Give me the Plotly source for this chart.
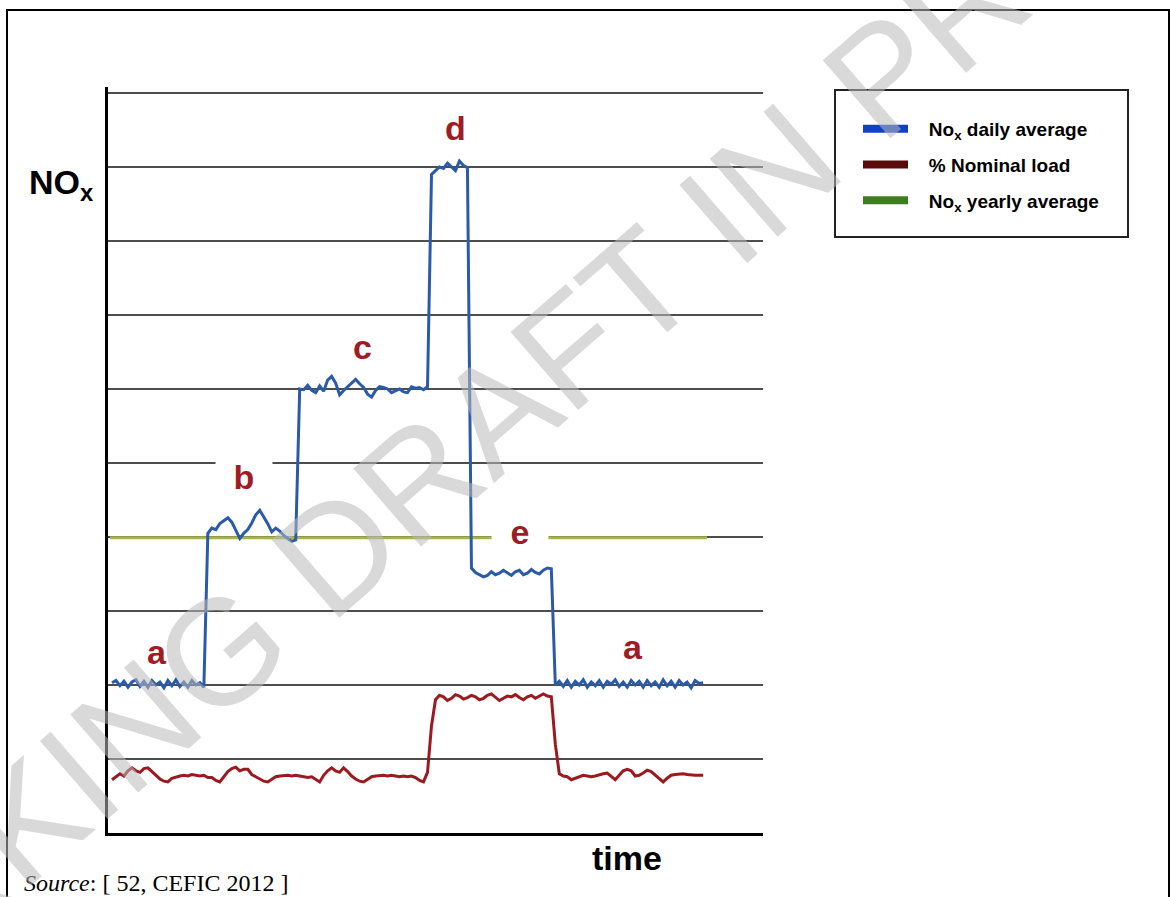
import plotly.graph_objects as go

# -------------------------------
# data
# -------------------------------
t = list(range(1, 150))   # time steps

# NOx daily average, one list per operating phase
nox_a1 = [2.03, 2.06, 1.99, 2.05, 1.97, 2.04, 2.07, 1.98, 2.05, 1.97,
          2.06, 2.00, 2.04, 1.96, 2.06, 1.99, 2.07, 1.98, 2.04, 1.97,
          2.06, 2.00, 2.03, 1.97]
nox_b = [4.05, 4.12, 4.10, 4.18, 4.22, 4.26, 4.20, 4.08, 3.98, 4.05,
         4.10, 4.19, 4.30, 4.36, 4.27, 4.18, 4.07, 4.12, 4.08, 4.02,
         3.98, 3.94, 3.96]
nox_c = [6.00, 5.99, 6.05, 5.98, 5.95, 6.04, 5.97, 6.12, 6.17, 6.08,
         5.92, 5.98, 6.03, 6.08, 6.13, 6.07, 6.02, 5.93, 5.89, 5.98,
         6.03, 6.02, 6.00, 5.95, 5.97, 6.00, 5.96, 5.95, 6.03, 6.01,
         6.02, 5.99, 6.03]
nox_d = [8.90, 8.95, 9.00, 8.98, 9.05, 9.00, 8.95, 9.08, 9.02, 8.99]
nox_e = [3.58, 3.52, 3.49, 3.46, 3.48, 3.53, 3.49, 3.51, 3.55, 3.52,
         3.48, 3.53, 3.55, 3.49, 3.51, 3.56, 3.52, 3.50, 3.55, 3.58,
         3.57]
nox_a2 = [2.00, 2.05, 1.98, 2.06, 1.97, 2.05, 2.00, 2.07, 1.97, 2.04,
          1.99, 2.06, 1.97, 2.05, 2.01, 2.07, 1.98, 2.04, 1.97, 2.06,
          2.00, 2.05, 1.97, 2.06, 1.99, 2.04, 1.97, 2.07, 1.99, 2.05,
          1.97, 2.06, 2.00, 2.04, 1.96, 2.06, 2.02, 2.03]
nox_daily = nox_a1 + nox_b + nox_c + nox_d + nox_e + nox_a2

# % nominal load
load_low1 = [0.72, 0.76, 0.80, 0.77, 0.84, 0.88, 0.84, 0.82, 0.87, 0.88,
             0.83, 0.78, 0.73, 0.70, 0.69, 0.74, 0.76, 0.77, 0.78, 0.77,
             0.79, 0.78, 0.77, 0.78, 0.75, 0.75, 0.71, 0.69, 0.76, 0.83,
             0.87, 0.89, 0.84, 0.86, 0.86, 0.79, 0.76, 0.73, 0.70, 0.69,
             0.72, 0.76, 0.77, 0.78, 0.78, 0.77, 0.78, 0.77, 0.76, 0.75,
             0.76, 0.72, 0.69, 0.78, 0.84, 0.88, 0.84, 0.82, 0.88, 0.83,
             0.77, 0.73, 0.70, 0.69, 0.73, 0.76, 0.77, 0.78, 0.78, 0.77,
             0.78, 0.77, 0.76, 0.77, 0.76, 0.77, 0.75, 0.71, 0.69, 0.82]
load_high = [1.45, 1.80, 1.86, 1.84, 1.79, 1.82, 1.87, 1.85, 1.81, 1.83,
             1.86, 1.84, 1.80, 1.82, 1.86, 1.88, 1.83, 1.79, 1.82, 1.85,
             1.84, 1.87, 1.83, 1.80, 1.84, 1.86, 1.82, 1.85, 1.88, 1.85,
             1.84]
load_low2 = [1.20, 0.80, 0.77, 0.76, 0.72, 0.74, 0.77, 0.78, 0.77, 0.76,
             0.77, 0.79, 0.80, 0.81, 0.76, 0.72, 0.78, 0.84, 0.86, 0.84,
             0.77, 0.78, 0.81, 0.85, 0.83, 0.78, 0.73, 0.69, 0.74, 0.78,
             0.79, 0.80, 0.80, 0.79, 0.78, 0.78, 0.78, 0.78]
nominal_load = load_low1 + load_high + load_low2

# NOx yearly average
yearly_t = [0.5, 150]
yearly_avg = [3.99, 3.99]

# phase labels
phase_labels = ["a", "b", "c", "d", "e", "a"]
phase_t = [12.3, 34.0, 63.6, 87.0, 103.2, 131.4]
phase_y = [2.45, 4.81, 6.57, 9.52, 4.07, 2.51]

legend_names = ["No<sub>x</sub> daily average", "% Nominal load", "No<sub>x</sub> yearly average"]
legend_colors = ["#1240c4", "#5a0a0a", "#3f7e1e"]

W, H = 1170, 897
def px(x):
    return x / W
def py(y):
    return (H - y) / H

fig = go.Figure()

fig.add_trace(go.Scatter(x=yearly_t, y=yearly_avg, mode="lines",
                         line=dict(color="#a6b545", width=3), showlegend=False, hoverinfo="skip"))
fig.add_trace(go.Scatter(x=t, y=nominal_load, mode="lines",
                         line=dict(color="#9c1a1f", width=3), showlegend=False))
fig.add_trace(go.Scatter(x=t, y=nox_daily, mode="lines",
                         line=dict(color="#2a5aa8", width=3), showlegend=False))

# legend entries (thick samples like the original)
for i, (nm, col) in enumerate(zip(legend_names, legend_colors)):
    fig.add_trace(go.Scatter(x=[None], y=[None], mode="lines",
                             name="&nbsp;&nbsp;&nbsp;<b>" + nm + "</b>",
                             line=dict(color=col, width=8), legendgroup=f"g{i}"))

annotations = []
for lab, xx, yy in zip(phase_labels, phase_t, phase_y):
    a = dict(x=xx, y=yy, xref="x", yref="y", text=f"<b>{lab}</b>", showarrow=False,
             font=dict(family="Liberation Sans, Arial", size=34, color="#a01c24"))
    if lab in ("b", "e"):
        a.update(bgcolor="white", width=56, height=44, borderpad=0)
    annotations.append(a)

annotations += [
    dict(x=px(27), y=py(184), xref="paper", yref="paper", xanchor="left", yanchor="middle",
         text="<b>NO<sub>x</sub></b>", showarrow=False,
         font=dict(family="Liberation Sans, Arial", size=34, color="black")),
    dict(x=px(627), y=py(858), xref="paper", yref="paper", xanchor="center", yanchor="middle",
         text="<b>time</b>", showarrow=False,
         font=dict(family="Liberation Sans, Arial", size=34, color="black")),
    dict(x=px(22), y=py(883), xref="paper", yref="paper", xanchor="left", yanchor="middle",
         text="<i>Source</i>: [ 52, CEFIC 2012 ]", showarrow=False,
         font=dict(family="Liberation Serif, Times New Roman", size=24, color="black")),
    # watermark
    dict(x=px(600), y=py(322), xref="paper", yref="paper", xanchor="center", yanchor="middle",
         text="WORKING DRAFT IN PROGRESS", showarrow=False, textangle=-41,
         font=dict(family="Liberation Sans, Arial", size=150, color="rgba(185,185,185,0.55)")),
]

shapes = [
    dict(type="rect", xref="paper", yref="paper", x0=px(7), x1=px(1169), y0=py(905), y1=py(10),
         line=dict(color="black", width=2), fillcolor="rgba(0,0,0,0)"),
    dict(type="rect", xref="paper", yref="paper", x0=px(835), x1=px(1128), y0=py(237), y1=py(90),
         line=dict(color="#222", width=2), fillcolor="rgba(0,0,0,0)"),
]

fig.update_xaxes(domain=[px(108), px(763)], range=[0, 164], showgrid=False, zeroline=False,
                 showline=True, linecolor="black", linewidth=2.5, showticklabels=False, ticks="")
fig.update_yaxes(domain=[py(833), py(87)], range=[0, 10.08], dtick=1, tick0=0,
                 showgrid=True, gridcolor="#4d4d4d", gridwidth=2, zeroline=False,
                 showline=True, linecolor="black", linewidth=2.5, showticklabels=False, ticks="")

fig.update_layout(
    width=W, height=H, autosize=False,
    margin=dict(l=0, r=0, t=0, b=0),
    paper_bgcolor="white", plot_bgcolor="white",
    annotations=annotations, shapes=shapes,
    showlegend=True,
    legend=dict(x=px(858), y=py(110), xanchor="left", yanchor="top",
                bgcolor="rgba(0,0,0,0)", borderwidth=0, traceorder="grouped",
                tracegroupgap=8, itemwidth=45,
                font=dict(family="Liberation Sans, Arial", size=19, color="black")),
)

fig.write_html("out.html", config={"displayModeBar": False},
               post_script="document.body.style.margin='0';")
